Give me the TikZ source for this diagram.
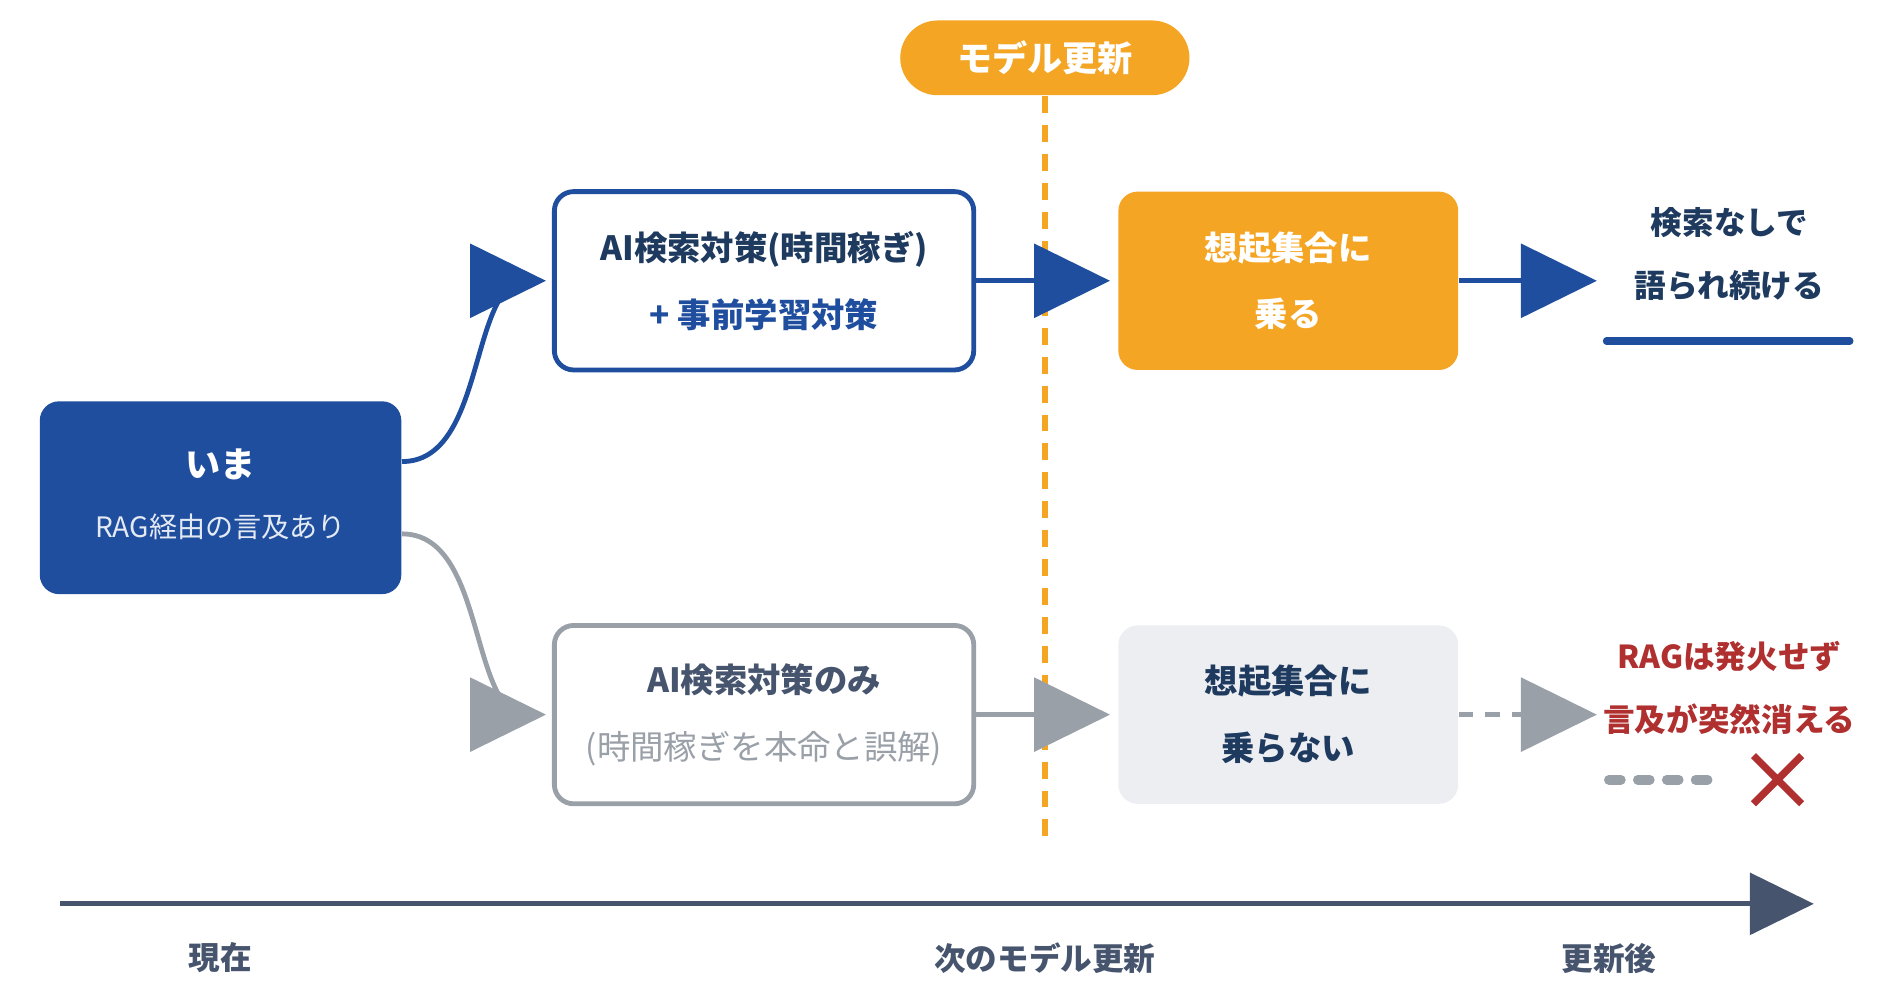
\documentclass[tikz,border=0pt]{standalone}
\usepackage{fontspec}
\setmainfont{Noto Sans CJK JP}
\usetikzlibrary{positioning}

\definecolor{navy}{HTML}{1F4E9E}
\definecolor{ink}{HTML}{1E3A5F}
\definecolor{amber}{HTML}{F4A524}
\definecolor{slate}{HTML}{9AA0A8}
\definecolor{pale}{HTML}{EDEEF2}
\definecolor{axis}{HTML}{46546E}
\definecolor{alert}{HTML}{B03030}

\def\px{0.01205cm}

\tikzset{
    box/.style={rounded corners=16*\px, minimum width=300*\px, minimum height=148*\px, align=center, font=\bfseries\fontsize{9.5}{19}\selectfont},
    smalltxt/.style={font=\fontsize{8}{10}\selectfont},
    lbl/.style={font=\bfseries\fontsize{9}{18}\selectfont, align=center},
    link/.style={line width=4*\px}
}

% big triangle tip, #1 = x of base, #2 = y of centre, #3 = colour
\newcommand\bigtip[3]
{
    \fill[#3] (#1,#2-31) -- (#1+63,#2) -- (#1,#2+31) -- cycle;
}

\begin{document}
\begin{tikzpicture}[x=\px,y=-\px]

\useasboundingbox (0,0) rectangle (1560,830);

% model update marker
\draw[amber, line width=5*\px, dash pattern=on 14*\px off 10*\px] (867,80) -- (867,700);
\node[fill=amber, rounded corners=31*\px, minimum width=240*\px, minimum height=62*\px, text=white, font=\bfseries\fontsize{10}{12}\selectfont] (upd) at (867,48) {モデル更新};

% boxes
\node[box, fill=navy, minimum width=300*\px, minimum height=160*\px, text=white] (now) at (183,413) {};
\node[text=white, font=\bfseries\fontsize{10}{12}\selectfont] (nowA) at (183,385) {いま};
\node[text=white!88!navy, smalltxt] (nowB) at (183,437) {RAG経由の言及あり};

\node[box, draw=navy, line width=4*\px, fill=white, minimum width=348*\px, text=ink] (hi) at (634,233)
    {AI検索対策(時間稼ぎ)\\\textcolor{navy}{+ 事前学習対策}};
\node[box, draw=slate, line width=4*\px, fill=white, minimum width=348*\px, text=axis] (lo) at (634,593)
    {AI検索対策のみ\\\textcolor{slate}{\mdseries (時間稼ぎを本命と誤解)}};

\node[box, fill=amber, minimum width=282*\px, text=white] (ride) at (1069,233) {想起集合に\\乗る};
\node[box, fill=pale, minimum width=282*\px, text=ink] (miss) at (1069,593) {想起集合に\\乗らない};

\node[lbl, text=ink] (keep) at (1435,211) {検索なしで\\語られ続ける};
\node[lbl, text=alert] (gone) at (1435,571) {RAGは発火せず\\言及が突然消える};

% tips
\coordinate (t1) at (430,233);
\coordinate (t2) at (430,593);
\coordinate (t3) at (858,233);
\coordinate (t4) at (858,593);
\coordinate (t5) at (1262,233);
\coordinate (t6) at (1262,593);
\bigtip{390}{233}{navy}
\bigtip{390}{593}{slate}
\bigtip{858}{233}{navy}
\bigtip{858}{593}{slate}
\bigtip{1262}{233}{navy}
\bigtip{1262}{593}{slate}

% connectors
\draw[link, navy] (now.east |- 0,383) .. controls (400,383) and (390,250) .. (t1);
\draw[link, slate] (now.east |- 0,443) .. controls (400,443) and (390,576) .. (t2);
\draw[link, navy] (hi.east) -- (t3);
\draw[link, slate] (lo.east) -- (t4);
\draw[link, navy] (ride.east) -- (t5);
\draw[link, slate, dash pattern=on 12*\px off 10*\px] (miss.east) -- (t6);

% outcomes
\draw[navy, line width=6*\px, line cap=round] (1333,283) -- (1535,283);
\draw[slate, line width=8*\px, line cap=round, dash pattern=on 10*\px off 14*\px] (1335,647) -- (1422,647);
\draw[alert, line width=6*\px] (1455,627) -- (1495,667) (1495,627) -- (1455,667);

% timeline
\coordinate (ax0) at (50,750);
\coordinate (ax1) at (1455,750);
\draw[axis, line width=4*\px] (ax0) -- (ax1);
\fill[axis] (1452,724) -- (1505,750) -- (1452,776) -- cycle;
\node[lbl, text=axis] (tNow) at (183,795) {現在};
\node[lbl, text=axis] (tNext) at (867,795) {次のモデル更新};
\node[lbl, text=axis] (tAfter) at (1335,795) {更新後};

\end{tikzpicture}
\end{document}
